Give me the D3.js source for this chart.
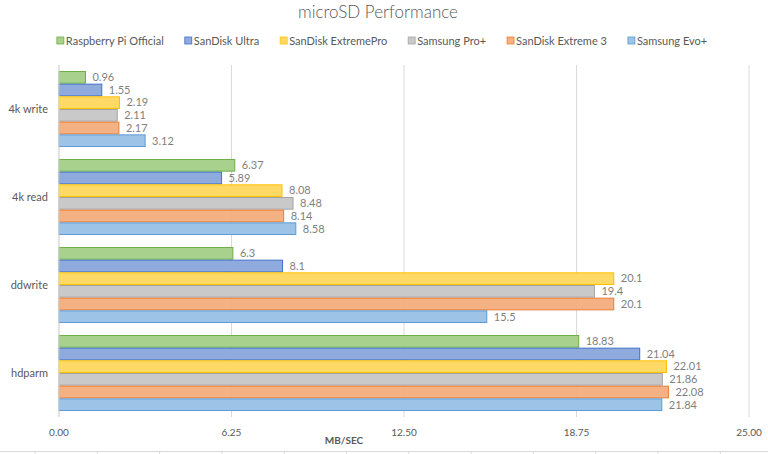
<!DOCTYPE html>
<html>
<head>
<meta charset="utf-8">
<script src="https://cdn.jsdelivr.net/npm/d3@7"></script>
<style>
  html, body { margin: 0; padding: 0; background: #fff; }
  svg { display: block; font-family: Lato, "Open Sans", sans-serif; }
</style>
</head>
<body>
<svg id="chart" width="768" height="454"></svg>
<script>
const categories = ["4k write", "4k read", "ddwrite", "hdparm"];
const seriesNames = ["Raspberry Pi Official", "SanDisk Ultra", "SanDisk ExtremePro", "Samsung Pro+", "SanDisk Extreme 3", "Samsung Evo+"];
const raspberryPi = [0.96, 6.37, 6.3, 18.83];
const sandiskUltra = [1.55, 5.89, 8.1, 21.04];
const sandiskExtremePro = [2.19, 8.08, 20.1, 22.01];
const samsungProPlus = [2.11, 8.48, 19.4, 21.86];
const sandiskExtreme3 = [2.17, 8.14, 20.1, 22.08];
const samsungEvoPlus = [3.12, 8.58, 15.5, 21.84];
const labels = [
  ["0.96", "6.37", "6.3", "18.83"],
  ["1.55", "5.89", "8.1", "21.04"],
  ["2.19", "8.08", "20.1", "22.01"],
  ["2.11", "8.48", "19.4", "21.86"],
  ["2.17", "8.14", "20.1", "22.08"],
  ["3.12", "8.58", "15.5", "21.84"]
];
const xTicks = [0, 6.25, 12.5, 18.75, 25];
const fills = ["#A9D18E", "#8FAADC", "#FFD966", "#C9C9C9", "#F4B183", "#9DC3E6"];
const strokes = ["#70AD47", "#4472C4", "#FFC000", "#A5A5A5", "#ED7D31", "#5B9BD5"];

const allValues = [raspberryPi, sandiskUltra, sandiskExtremePro, samsungProPlus, sandiskExtreme3, samsungEvoPlus];

(function () {
const svg = d3.select("#chart");
const pLeft = 59, pRight = 749, pTop = 65, pBottom = 417;
const textColor = "#595959";

const x = d3.scaleLinear().domain([0, 25]).range([pLeft, pRight]);
const y0 = d3.scaleBand().domain(categories).range([pTop, pBottom]).paddingInner(0.136).paddingOuter(0.068);
const y1 = d3.scaleBand().domain(seriesNames).range([0, y0.bandwidth()]);

// Title
svg.append("text").attr("x", 378).attr("y", 18).attr("text-anchor", "middle")
  .attr("font-size", 17).attr("font-weight", 300).attr("fill", textColor).text("microSD Performance");

// Legend
const legend = svg.append("g");
const items = [];
seriesNames.forEach((name, i) => {
  const g = legend.append("g");
  g.append("rect").attr("x", 0).attr("y", -4).attr("width", 7).attr("height", 7)
    .attr("fill", fills[i]).attr("stroke", strokes[i]).attr("stroke-width", 0.8);
  const t = g.append("text").attr("x", 9).attr("y", 0).attr("dy", "0.35em")
    .attr("font-size", 11).attr("fill", textColor).text(name);
  items.push({ g, w: 9 + t.node().getComputedTextLength() });
});
const gap = 21;
const totalW = d3.sum(items, d => d.w) + gap * (items.length - 1);
let lx = 382 - totalW / 2;
items.forEach(it => { it.g.attr("transform", `translate(${lx},41)`); lx += it.w + gap; });

// Gridlines
svg.append("g").selectAll("line").data(xTicks).join("line")
  .attr("x1", d => x(d)).attr("x2", d => x(d))
  .attr("y1", pTop).attr("y2", pBottom)
  .attr("stroke", "#D9D9D9").attr("stroke-width", 1);

// Tick labels
svg.append("g").selectAll("text").data(xTicks).join("text")
  .attr("x", d => x(d)).attr("y", 432).attr("dy", "0.35em").attr("text-anchor", "middle")
  .attr("font-size", 10).attr("fill", textColor).text(d => d.toFixed(2));

// Axis title
svg.append("text").attr("x", 344).attr("y", 440).attr("dy", "0.35em").attr("text-anchor", "middle")
  .attr("font-size", 10).attr("font-weight", "bold").attr("fill", textColor).text("MB/SEC");

// Bars
const groups = svg.append("g").selectAll("g").data(categories).join("g")
  .attr("transform", d => `translate(0,${y0(d)})`);
groups.each(function(cat, ci) {
  const g = d3.select(this);
  seriesNames.forEach((s, si) => {
    const v = allValues[si][ci];
    g.append("rect")
      .attr("x", x(0)).attr("y", y1(s) + 0.5)
      .attr("width", x(v) - x(0)).attr("height", y1.bandwidth() - 1)
      .attr("fill", fills[si]).attr("stroke", strokes[si]).attr("stroke-width", 1);
    g.append("text")
      .attr("x", x(v) + 7).attr("y", y1(s) + y1.bandwidth() / 2).attr("dy", "0.35em")
      .attr("font-size", 11).attr("fill", "#7F7F7F").text(labels[si][ci]);
  });
});

// Category labels
svg.append("g").selectAll("text").data(categories).join("text")
  .attr("x", 48).attr("y", d => y0(d) + y0.bandwidth() / 2).attr("dy", "0.35em")
  .attr("text-anchor", "end").attr("font-size", 11).attr("fill", textColor).text(d => d);

// Vertical axis line
svg.append("line").attr("x1", pLeft).attr("x2", pLeft).attr("y1", pTop).attr("y2", pBottom)
  .attr("stroke", "#D9D9D9");

// Spreadsheet-style bottom border
svg.append("line").attr("x1", 0).attr("x2", 768).attr("y1", 451.5).attr("y2", 451.5).attr("stroke", "#D9D9D9");
svg.append("g").selectAll("line").data(d3.range(12)).join("line")
  .attr("x1", d => 35 + d * 62.3).attr("x2", d => 35 + d * 62.3)
  .attr("y1", 451).attr("y2", 454).attr("stroke", "#D9D9D9");
})();
</script>
</body>
</html>
